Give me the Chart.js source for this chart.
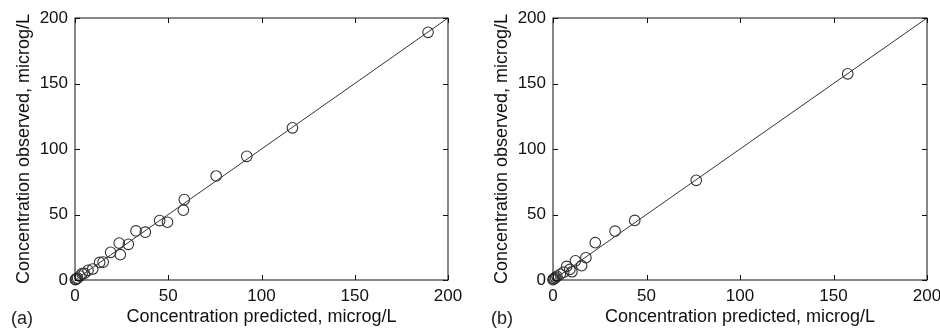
<!DOCTYPE html>
<html>
<head>
<meta charset="utf-8">
<script src="https://cdn.jsdelivr.net/npm/chart.js@4/dist/chart.umd.min.js"></script>
<style>
  html, body { margin: 0; padding: 0; background: #fff; }
  .panel { position: absolute; top: 0; width: 470px; height: 328px; }
  .tag { position: absolute; top: 308px; font: 18px "Liberation Sans", Arial, sans-serif; color: #222; }
</style>
</head>
<body>
<div class="panel" style="left:0"><canvas id="chartA" width="470" height="328"></canvas></div>
<div class="panel" style="left:470px"><canvas id="chartB" width="470" height="328"></canvas></div>
<div class="tag" style="left:11px">(a)</div>
<div class="tag" style="left:491px">(b)</div>
<script>
const tickValues = [0, 50, 100, 150, 200];
const lineEnds = [0, 200];

// panel (a)
const predictedA = [189.3, 116.6, 92.1, 75.7, 58.6, 58.1, 49.6, 45.4, 37.7, 32.7, 28.6, 23.7, 24.3, 19.1,
  15.1, 13.2, 9.5, 7.0, 5.0, 3.8, 2.6, 1.4, 0.8, 0.4, 0.2];
const observedA = [189.1, 116.2, 94.4, 79.4, 61.4, 53.3, 44.1, 45.4, 36.5, 37.5, 27.2, 28.2, 19.3, 21.1,
  13.7, 13.4, 8.4, 7.4, 5.0, 4.8, 3.0, 1.5, 1.0, 0.5, 0.3];

// panel (b)
const predictedB = [157.6, 76.6, 43.7, 33.2, 22.6, 17.6, 12.0, 15.3, 7.3, 9.0, 10.1, 5.7, 3.9, 2.1,
  1.4, 0.7, 0.3, 0.0];
const observedB = [157.4, 76.1, 45.5, 37.3, 28.5, 17.0, 14.6, 10.9, 10.4, 8.1, 6.3, 6.0, 4.4, 2.8,
  1.9, 1.2, 0.6, 0.2];

const tickFont = { family: '"Liberation Sans", Arial, sans-serif', size: 17, lineHeight: 1 };
const titleFont = { family: '"Liberation Sans", Arial, sans-serif', size: 18, lineHeight: 1 };

// box round the plot with inward ticks on all four sides
const boxPlugin = {
  id: 'box',
  afterDatasetsDraw(chart) {
    const { ctx, chartArea: a, scales } = chart;
    ctx.save();
    ctx.strokeStyle = '#111';
    ctx.lineWidth = 1;
    ctx.strokeRect(a.left, a.top, a.right - a.left, a.bottom - a.top);
    ctx.beginPath();
    tickValues.forEach(v => {
      const px = Math.round(scales.x.getPixelForValue(v)) + 0.5;
      const py = Math.round(scales.y.getPixelForValue(v)) + 0.5;
      ctx.moveTo(px, a.bottom); ctx.lineTo(px, a.bottom - 5);
      ctx.moveTo(px, a.top); ctx.lineTo(px, a.top + 5);
      ctx.moveTo(a.left, py); ctx.lineTo(a.left + 5, py);
      ctx.moveTo(a.right, py); ctx.lineTo(a.right - 5, py);
    });
    ctx.stroke();
    ctx.restore();
  }
};

function makeChart(id, xs, ys, yWidth, rightPad, titlePad) {
  const pts = xs.map((x, i) => ({ x: x, y: ys[i] }));
  const line = lineEnds.map(v => ({ x: v, y: v }));
  return new Chart(document.getElementById(id), {
    type: 'scatter',
    data: {
      datasets: [
        {
          data: line,
          showLine: true,
          borderColor: '#333',
          borderWidth: 1,
          pointRadius: 0,
          clip: false
        },
        {
          data: pts,
          pointStyle: 'circle',
          pointRadius: 5.3,
          pointBorderWidth: 1.1,
          borderColor: '#333',
          backgroundColor: 'rgba(0,0,0,0)',
          clip: false
        }
      ]
    },
    options: {
      responsive: false,
      animation: false,
      layout: { padding: { top: 18, right: rightPad, left: 0, bottom: 0 } },
      plugins: { legend: { display: false }, tooltip: { enabled: false } },
      scales: {
        x: {
          type: 'linear',
          min: 0, max: 200,
          afterBuildTicks: s => { s.ticks = tickValues.map(v => ({ value: v })); },
          afterFit: s => { s.height = 48; s.paddingLeft = 0; s.paddingRight = 0; },
          grid: { display: false, drawTicks: false },
          border: { display: false },
          ticks: { color: '#111', font: tickFont, padding: 8, maxRotation: 0 },
          title: { display: true, text: 'Concentration predicted, microg/L', color: '#111', font: titleFont, padding: { bottom: 2 } }
        },
        y: {
          type: 'linear',
          min: 0, max: 200,
          afterBuildTicks: s => { s.ticks = tickValues.map(v => ({ value: v })); },
          afterFit: s => { s.width = yWidth; s.paddingTop = 0; s.paddingBottom = 0; },
          grid: { display: false, drawTicks: false },
          border: { display: false },
          ticks: { color: '#111', font: tickFont, padding: 7 },
          title: { display: true, text: 'Concentration observed, microg/L', color: '#111', font: titleFont, padding: { top: titlePad } }
        }
      }
    },
    plugins: [boxPlugin]
  });
}

makeChart('chartA', predictedA, observedA, 75, 22, 15);
makeChart('chartB', predictedB, observedB, 83, 13, 23);
</script>
</body>
</html>
